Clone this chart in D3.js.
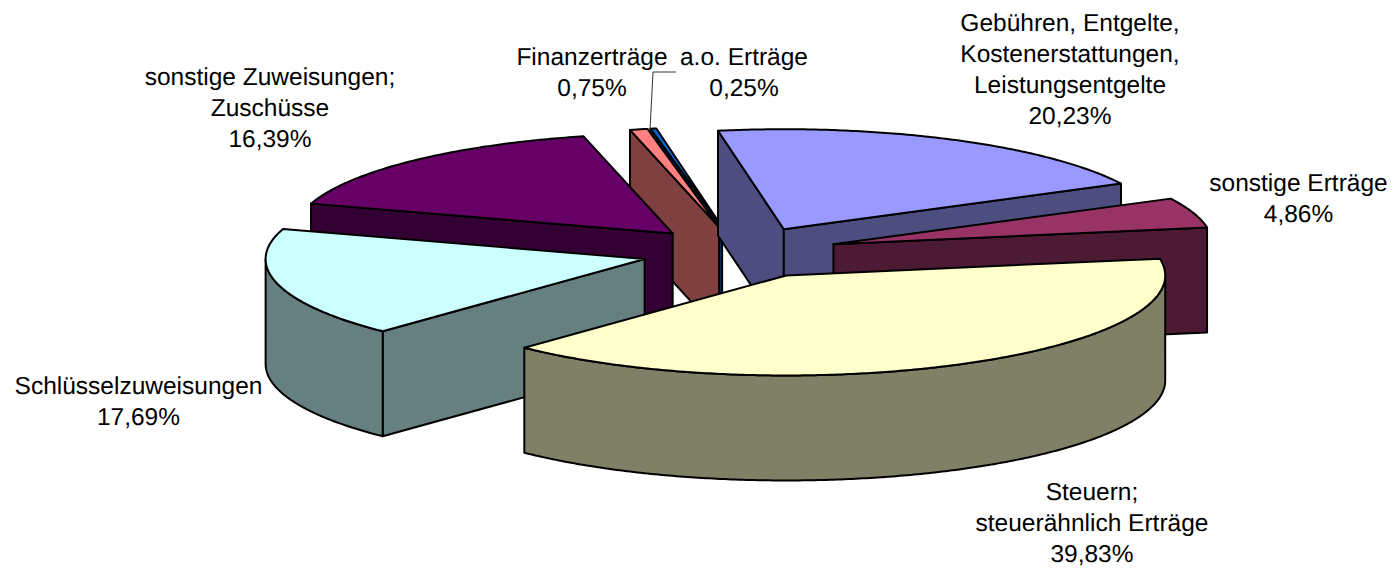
<!DOCTYPE html>
<html><head><meta charset="utf-8">
<style>html,body{margin:0;padding:0;background:#fff}svg{display:block}text{font-family:"Liberation Sans",Arial,sans-serif;font-size:24.5px;fill:#000;text-rendering:geometricPrecision}</style>
<script src="https://cdnjs.cloudflare.com/ajax/libs/d3/7.8.5/d3.min.js"></script>
</head><body><svg id="c" width="1396" height="571"></svg>
<script>
// data
const categories = ["Gebühren, Entgelte, Kostenerstattungen, Leistungsentgelte","sonstige Erträge","Steuern; steuerähnlich Erträge","Schlüsselzuweisungen","sonstige Zuweisungen; Zuschüsse","Finanzerträge","a.o. Erträge"];
const shares = [20.23,4.86,39.83,17.69,16.39,0.75,0.25];
const labelLines = [["Gebühren, Entgelte,","Kostenerstattungen,","Leistungsentgelte"],["sonstige Erträge"],["Steuern;","steuerähnlich Erträge"],["Schlüsselzuweisungen"],["sonstige Zuweisungen;","Zuschüsse"],["Finanzerträge"],["a.o. Erträge"]];
const topColors = ["#9999FF","#993366","#FFFFCC","#CCFFFF","#660066","#FF8080","#0066CC"];
const wallColors = ["#4D4D80","#4D1A33","#808066","#668080","#330033","#804040","#003366"];
// layout
const labelAnchors = [[1070,31],[1298.5,191],[1092,500],[138.5,394],[270,85],[592,65],[744,65]];
const drawOrder = [6,5,0,4,1,3,2];
const cx=740, cy=252.5, rx=379, ry=100, depth=105, explode=98.5/379, firstAngle=-10*Math.PI/180, lineH=31;

const x=d3.scaleLinear().domain([-1,1]).range([cx-rx,cx+rx]);
const y=d3.scaleLinear().domain([-1,1]).range([cy-ry,cy+ry]);
const arcs=d3.pie().sort(null).startAngle(firstAngle).endAngle(firstAngle+2*Math.PI)(shares);
const svg=d3.select("#c");
const line=d3.line().x(d=>d[0]).y(d=>d[1]);
const stroke={stroke:"#000","stroke-width":2,"stroke-linejoin":"round"};
function face(pts,fill){const p=svg.append("path").attr("d",line(pts)+"Z").attr("fill",fill);Object.entries(stroke).forEach(([k,v])=>p.attr(k,v));}
const down=(p)=>[p[0],p[1]+depth];

drawOrder.forEach(i=>{
  const a=arcs[i],mid=(a.startAngle+a.endAngle)/2;
  const ox=explode*Math.sin(mid), oy=-explode*Math.cos(mid);
  const P=(ang)=>[x(ox+Math.sin(ang)),y(oy-Math.cos(ang))];
  const apex=[x(ox),y(oy)];
  const n=Math.max(2,Math.ceil((a.endAngle-a.startAngle)/0.01));
  const samples=d3.range(n+1).map(k=>a.startAngle+(a.endAngle-a.startAngle)*k/n);
  if(Math.sin(a.startAngle)<0){const s=P(a.startAngle);face([apex,s,down(s),down(apex)],wallColors[i]);}
  if(Math.sin(a.endAngle)>0){const e=P(a.endAngle);face([apex,e,down(e),down(apex)],wallColors[i]);}
  const front=samples.filter(t=>Math.cos(t)<0);
  if(front.length>1){const top=front.map(P);face(top.concat(top.slice().reverse().map(down)),wallColors[i]);}
  face([apex].concat(samples.map(P)),topColors[i]);
});

// leader line of the Finanzerträge label
svg.append("path").attr("fill","none").attr("stroke","#333").attr("stroke-width",1)
  .attr("d",line([[650,130],[653,72],[676,72]]));

// labels
labelLines.forEach((ls,i)=>{
  const t=svg.append("text").attr("text-anchor","middle");
  const all=ls.concat(shares[i].toFixed(2).replace(".",",")+"%");
  all.forEach((s,j)=>t.append("tspan").attr("x",labelAnchors[i][0]).attr("y",labelAnchors[i][1]+j*lineH).text(s));
});
</script></body></html>
